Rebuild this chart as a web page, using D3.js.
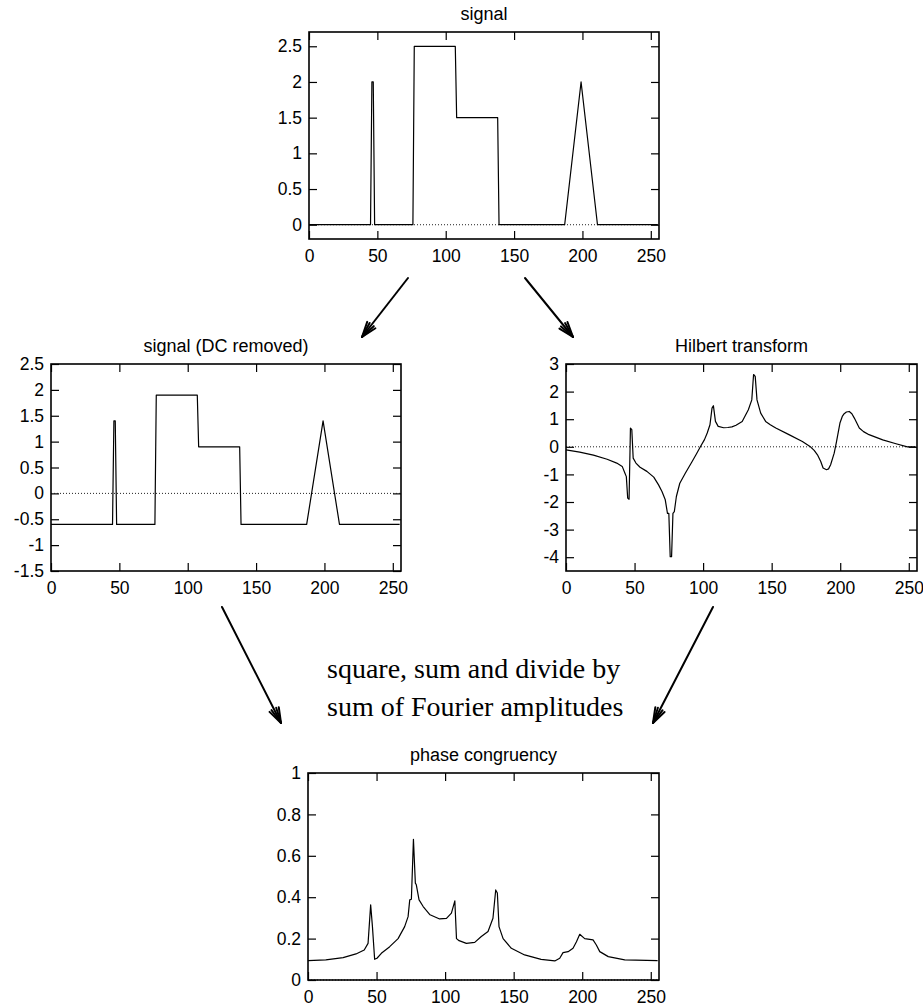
<html lang="en">
<head>
  <title>Phase congruency</title>
  <meta charset="utf-8">
  <style>
    body { margin: 0; background: #fff; }
    .tick text { font-family: 'Liberation Sans', Arial, sans-serif; font-size: 17.5px; fill: #000; }
    .tick line { stroke: #000; stroke-width: 1.2; }
    .title { font-family: 'Liberation Sans', Arial, sans-serif; font-size: 18px; fill: #000; text-anchor: middle; }
    .note { font-family: 'Liberation Serif', 'Times New Roman', serif; font-size: 28px; fill: #000; }
  </style>
</head>

<script src="https://d3js.org/d3.v7.min.js"></script>

<body>
  <svg id = 'canvas' width = '923' height = '1006'></svg>
</body>

<script>

// signal, piecewise linear breakpoints
var signal_x = [0, 45, 46, 47, 48, 76, 77, 107, 108, 138, 139, 187, 199, 211, 255];
var signal_y = [0, 0, 2, 2, 0, 0, 2.5, 2.5, 1.5, 1.5, 0, 0, 2, 0, 0];

// signal with DC removed
var dc_x = [0, 45, 46, 47, 48, 76, 77, 107, 108, 138, 139, 187, 199, 211, 255];
var dc_y = [-0.6, -0.6, 1.4, 1.4, -0.6, -0.6, 1.9, 1.9, 0.9, 0.9, -0.6, -0.6, 1.4, -0.6, -0.6];

// Hilbert transform
var hilbert_x = [0, 10, 20, 30, 37, 41, 43, 44, 45, 46, 47, 48, 49, 51, 54, 59, 64, 67.5, 70, 72.4, 74, 75, 76, 77, 78, 79,
                 80.5, 83, 87, 92, 95, 98, 101, 103, 105, 106.5, 107.5, 109, 111, 115, 118, 121, 124, 128.5, 133, 135.5, 136.8,
                 138, 139.3, 142, 145.6, 149, 153, 162.6, 172.4, 178.5, 181, 183.4, 185.8, 187.5, 190, 191.5, 193, 195.6, 197.3,
                 199.8, 201.5, 202.9, 204.5, 206.6, 208.5, 210.3, 213.9, 217, 221, 231, 240.7, 249, 255];
var hilbert_y = [-0.11, -0.19, -0.3, -0.45, -0.59, -0.71, -0.96, -1.08, -1.86, -1.9, 0.68, 0.62, -0.41, -0.59, -0.74, -0.89,
                 -1.1, -1.38, -1.62, -1.92, -2.41, -2.41, -3.98, -3.98, -2.41, -2.35, -1.8, -1.32, -0.96, -0.53, -0.27, 0, 0.26,
                 0.5, 0.8, 1.4, 1.49, 0.92, 0.74, 0.69, 0.7, 0.72, 0.78, 0.92, 1.34, 1.7, 2.62, 2.55, 1.7, 1.22, 0.92, 0.8,
                 0.68, 0.44, 0.19, -0.01, -0.13, -0.29, -0.53, -0.77, -0.83, -0.8, -0.65, -0.23, 0.19, 0.86, 1.1, 1.2, 1.26,
                 1.28, 1.2, 1.04, 0.68, 0.55, 0.44, 0.25, 0.11, 0, 0];

// phase congruency
var pc_x = [0, 13, 25.6, 35, 41, 43.8, 45.7, 47, 48.6, 50.3, 53.5, 59.6, 65.7, 70.5, 73, 74.2, 75.4, 76.9, 78.3, 79, 81, 84,
            89, 96, 101, 104.6, 107.1, 108.3, 110.2, 115.5, 121.6, 126.4, 131.3, 134.9, 136.9, 138.1, 139.3, 142.3, 148.3,
            158, 170, 180, 183.6, 186, 189.7, 193.3, 195.8, 198.2, 201.8, 207.9, 210.3, 212.8, 219, 231, 255];
var pc_y = [0.094, 0.097, 0.108, 0.126, 0.145, 0.177, 0.363, 0.258, 0.1, 0.105, 0.129, 0.161, 0.2, 0.258, 0.306, 0.387,
            0.39, 0.68, 0.468, 0.46, 0.387, 0.355, 0.315, 0.295, 0.298, 0.323, 0.382, 0.2, 0.19, 0.177, 0.182, 0.21, 0.234,
            0.298, 0.435, 0.42, 0.258, 0.2, 0.153, 0.121, 0.1, 0.092, 0.105, 0.132, 0.137, 0.153, 0.185, 0.221, 0.2, 0.194,
            0.169, 0.137, 0.113, 0.097, 0.094];

var x_ticks = [0, 50, 100, 150, 200, 250];
var signal_ticks = [0, 0.5, 1, 1.5, 2, 2.5];
var dc_ticks = [-1.5, -1, -0.5, 0, 0.5, 1, 1.5, 2, 2.5];
var hilbert_ticks = [-4, -3, -2, -1, 0, 1, 2, 3];
var pc_ticks = [0, 0.2, 0.4, 0.6, 0.8, 1];

var titles = ['signal', 'signal (DC removed)', 'Hilbert transform', 'phase congruency'];
var note_lines = ['square, sum and divide by', 'sum of Fourier amplitudes'];

var svg = d3.select('#canvas');

/*******************************************************************************/
// panels

var panels = [
  { left: 309, top: 32,  w: 350, h: 207, xs: signal_x,  ys: signal_y,  ydom: [-0.2, 2.7], yticks: signal_ticks,  title: titles[0] },
  { left: 51,  top: 364, w: 350, h: 207, xs: dc_x,      ys: dc_y,      ydom: [-1.5, 2.5], yticks: dc_ticks,      title: titles[1] },
  { left: 566, top: 364, w: 351, h: 207, xs: hilbert_x, ys: hilbert_y, ydom: [-4.5, 3],   yticks: hilbert_ticks, title: titles[2] },
  { left: 308, top: 773, w: 351, h: 207, xs: pc_x,      ys: pc_y,      ydom: [0, 1],      yticks: pc_ticks,      title: titles[3] }
];

function fmt(d){ return String(Math.round(d*10)/10); }

panels.forEach(drawPanel);

function drawPanel(p){
  var g = svg.append('g').attr('transform', 'translate(' +p.left+ ',' +p.top+ ')');
  var x = d3.scaleLinear().domain([0, 256]).range([0, p.w]);
  var y = d3.scaleLinear().domain(p.ydom).range([p.h, 0]);

  g.append('text').attr('class', 'title').attr('x', p.w/2).attr('y', -12).text(p.title);

  // inward ticks on all four sides, labels only left and bottom
  g.append('g').attr('transform', 'translate(0,' +p.h+ ')')
    .call(d3.axisBottom(x).tickValues(x_ticks).tickSize(-8).tickPadding(11).tickFormat(fmt));
  g.append('g')
    .call(d3.axisTop(x).tickValues(x_ticks).tickSize(-8).tickFormat(''));
  g.append('g')
    .call(d3.axisLeft(y).tickValues(p.yticks).tickSize(-8).tickPadding(7).tickFormat(fmt));
  g.append('g').attr('transform', 'translate(' +p.w+ ',0)')
    .call(d3.axisRight(y).tickValues(p.yticks).tickSize(-8).tickFormat(''));
  g.selectAll('.domain').remove();

  // dotted zero line
  g.append('line')
    .attr('x1', 0).attr('x2', p.w).attr('y1', y(0)).attr('y2', y(0))
    .style('stroke', '#222').style('stroke-width', 1).style('stroke-dasharray', '1,2');

  var pts = p.xs.map(function(v, i){ return [v, p.ys[i]]; });
  var line = d3.line().x(function(d){ return x(d[0]); }).y(function(d){ return y(d[1]); });
  g.append('path').datum(pts).attr('d', line)
    .style('fill', 'none').style('stroke', '#000').style('stroke-width', 1.2).style('stroke-linejoin', 'round');

  g.append('rect').attr('width', p.w).attr('height', p.h)
    .style('fill', 'none').style('stroke', '#000').style('stroke-width', 1.6);
}

/*******************************************************************************/
// arrows and the note

var arrows = [
  { x1: 408, y1: 278, x2: 362, y2: 337 },
  { x1: 525, y1: 278, x2: 573, y2: 337 },
  { x1: 222, y1: 607, x2: 281, y2: 723 },
  { x1: 713, y1: 607, x2: 653, y2: 723 }
];

arrows.forEach(function(a){
  var ang = Math.atan2(a.y2 - a.y1, a.x2 - a.x1), len = 16, spread = 0.33;
  var g = svg.append('g').style('stroke', '#000').style('stroke-width', 2).style('fill', 'none').style('stroke-linecap', 'round');
  g.append('line').attr('x1', a.x1).attr('y1', a.y1).attr('x2', a.x2).attr('y2', a.y2);
  [-spread, -spread/2, spread/2, spread].forEach(function(s){
    g.append('line').attr('x1', a.x2).attr('y1', a.y2)
      .attr('x2', a.x2 - len*Math.cos(ang + s)).attr('y2', a.y2 - len*Math.sin(ang + s));
  });
});

svg.selectAll('.note').data(note_lines).enter()
  .append('text').attr('class', 'note')
  .attr('x', 327).attr('y', function(d, i){ return 678 + i*38; })
  .text(function(d){ return d; });

</script>
</html>
